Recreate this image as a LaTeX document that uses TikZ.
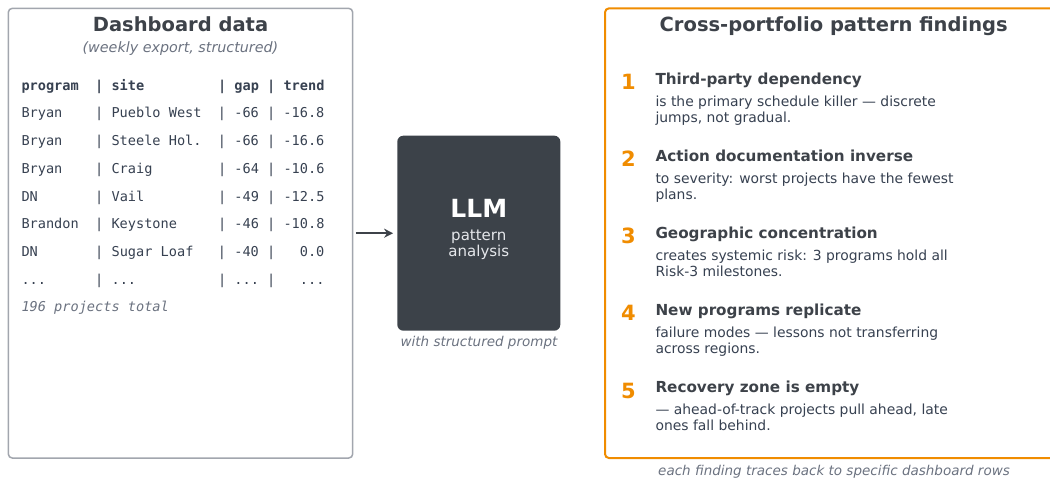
\documentclass[tikz,border=0pt]{standalone}
\usepackage{fontspec}
\setmainfont{DejaVu Sans}
\setmonofont{DejaVu Sans Mono}
\usetikzlibrary{arrows.meta}

\definecolor{ink}{HTML}{3D4249}
\definecolor{textc}{HTML}{374151}
\definecolor{muted}{HTML}{6B7280}
\definecolor{frame}{HTML}{A2A6AE}
\definecolor{accent}{HTML}{F08C00}
\definecolor{llmfill}{HTML}{3C4249}
\definecolor{llmsub}{HTML}{E5E7EB}

\newcommand\fsz[1]{\fontsize{#1}{16}\selectfont}

\begin{document}
\begin{tikzpicture}[x=1pt,y=-1pt,
  txt/.style={inner sep=0pt, outer sep=0pt},
  panel/.style={draw=frame, line width=1.5pt, rounded corners=4pt, fill=white},
  findpanel/.style={draw=accent, line width=2pt, rounded corners=4pt, fill=white},
  llmbox/.style={fill=llmfill, rounded corners=6pt, minimum width=163pt, minimum height=195pt, inner sep=0pt},
  heading/.style={txt, anchor=base, font=\fsz{19.5}\bfseries, text=ink},
  subhead/.style={txt, anchor=base, font=\fsz{14.3}\itshape, text=muted},
  row/.style={txt, anchor=base west, font=\fsz{13.6}\ttfamily, text=textc},
  findnum/.style={txt, anchor=base, font=\fsz{21}\bfseries, text=accent},
  findhead/.style={txt, anchor=base west, font=\fsz{15.2}\bfseries, text=ink},
  findbody/.style={txt, anchor=base west, font=\fsz{13.9}, text=textc},
  caption/.style={txt, anchor=base, font=\fsz{13.5}\itshape, text=muted},
  flow/.style={draw=ink, line width=2pt, -{Stealth[length=9pt,width=9pt]}}
]
\useasboundingbox (0,0) rectangle (1050,479);
\clip (0,0) rectangle (1050,479);

% input panel
\node[panel, minimum width=344.4pt, minimum height=449.7pt] (data) at (180.5,233.2) {};
\node[heading] (datatitle) at (180.5,31) {Dashboard data};
\node[subhead] (datasub) at (180.5,52.5) {(weekly export, structured)};

% table rows, monospaced, one node per line
\node[row, font=\fsz{13.6}\ttfamily\bfseries] (rowhead) at (21.5,90)
  {program~~|~site~~~~~~~~~|~gap~|~trend};
\node[row] (row1) at (21.5,117.75) {Bryan~~~~|~Pueblo~West~~|~-66~|~-16.8};
\node[row] (row2) at (21.5,145.5)  {Bryan~~~~|~Steele~Hol.~~|~-66~|~-16.6};
\node[row] (row3) at (21.5,173.25) {Bryan~~~~|~Craig~~~~~~~~|~-64~|~-10.6};
\node[row] (row4) at (21.5,201)    {DN~~~~~~~|~Vail~~~~~~~~~|~-49~|~-12.5};
\node[row] (row5) at (21.5,228.75) {Brandon~~|~Keystone~~~~~|~-46~|~-10.8};
\node[row] (row6) at (21.5,256.5)  {DN~~~~~~~|~Sugar~Loaf~~~|~-40~|~~~0.0};
\node[row] (row7) at (21.5,284.25) {...~~~~~~|~...~~~~~~~~~~|~...~|~~~...};
\node[row, font=\fsz{13.6}\ttfamily\itshape, text=muted] (rowtotal) at (21.5,311.7)
  {196~projects~total};

% model
\node[llmbox] (llm) at (478.8,233.2) {};
\node[txt, anchor=base, font=\fsz{25}\bfseries, text=white] (llmname) at (478.8,217.5) {LLM};
\node[txt, anchor=base, font=\fsz{15}, text=llmsub] (llmsub1) at (478.8,240.7) {pattern};
\node[txt, anchor=base, font=\fsz{15}, text=llmsub] (llmsub2) at (478.8,256.7) {analysis};
\node[caption] (llmcap) at (479,346.3) {with structured prompt};

\draw[flow, shorten <=2.5pt, shorten >=4pt] (data.east) -- (llm.west);

% findings panel
\node[findpanel, minimum width=457pt, minimum height=449.7pt] (find) at (833.5,233.2) {};
\node[heading] (findtitle) at (833.7,31) {Cross-portfolio pattern findings};

\foreach \n/\h/\la/\lb [count=\i from 0] in {
  1/{Third-party dependency}/{is the primary schedule killer — discrete}/{jumps, not gradual.},
  2/{Action documentation inverse}/{to severity: worst projects have the fewest}/{plans.},
  3/{Geographic concentration}/{creates systemic risk: 3 programs hold all}/{Risk-3 milestones.},
  4/{New programs replicate}/{failure modes — lessons not transferring}/{across regions.},
  5/{Recovery zone is empty}/{— ahead-of-track projects pull ahead, late}/{ones fall behind.}}
{
  \node[findnum] (num\n) at (628.5,{89.3+77.2*\i}) {\n};
  \node[findhead] (head\n) at (655.5,{84+77.2*\i}) {\h};
  \node[findbody] (body\n a) at (655.5,{106+77.2*\i}) {\la};
  \node[findbody] (body\n b) at (655.5,{122+77.2*\i}) {\lb};
}

\node[caption] (findcap) at (834,475) {each finding traces back to specific dashboard rows};
\end{tikzpicture}
\end{document}
